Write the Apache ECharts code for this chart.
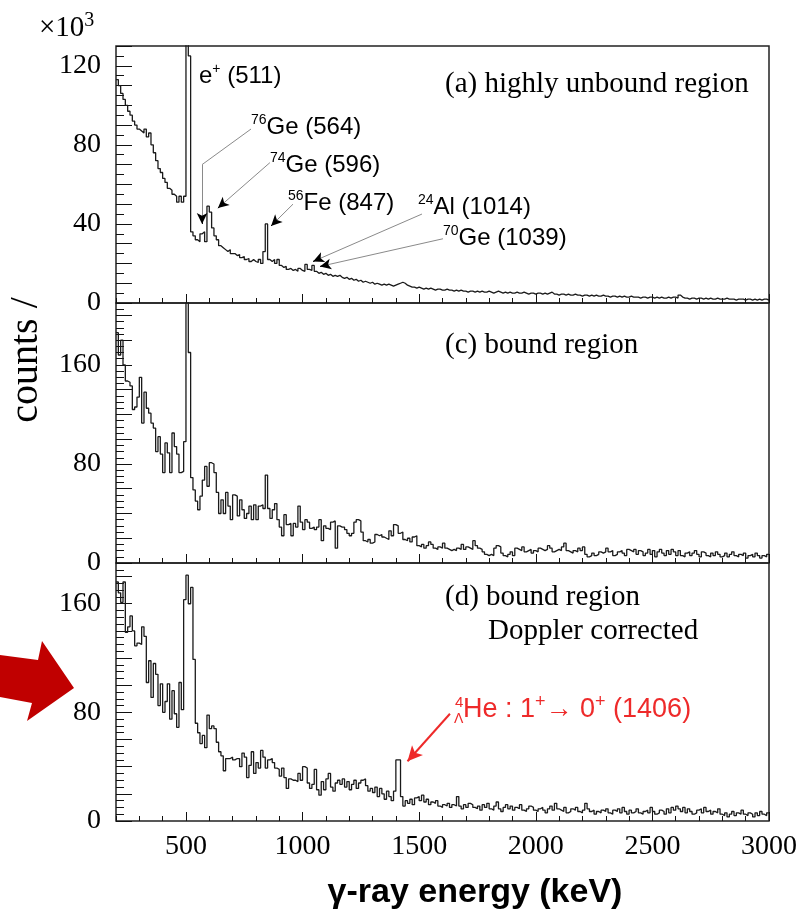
<!DOCTYPE html>
<html>
<head>
<meta charset="utf-8">
<script src="https://cdn.jsdelivr.net/npm/echarts@6/dist/echarts.min.js"></script>
<style>
  html, body { margin: 0; padding: 0; background: #fff; }
  #chart { width: 801px; height: 914px; }
</style>
</head>
<body>
<div id="chart"></div>
<script>
// histogram binning (keV)
const BIN_LO = 200;
const BIN_W = 10;
const X_MAX = 3000;
const xLabelValues = [500, 1000, 1500, 2000, 2500, 3000];

// (a) highly unbound region, counts x10^3 per 10 keV bin, one row = 100 keV
const unboundA = [
  113, 110, 106, 103, 100, 97, 95, 92, 90, 88,
  87, 86, 88, 84, 86, 80, 76, 72, 68, 66,
  63, 61, 58, 57, 55, 54, 51, 54, 51, 54,
  160, 125, 36, 34, 32, 31, 35, 36, 31, 49,
  46, 38, 34, 32, 29, 28, 27, 26, 27, 25,
  25, 24, 24.5, 23, 23.5, 22, 22.5, 21, 22, 21,
  20.5, 22, 20, 26, 40, 22, 21, 22, 20, 22,
  19, 18, 18.5, 17, 17.5, 16.5, 17, 16, 17.5, 16.5,
  16, 19.5, 17, 16.5, 19, 16, 15, 15.5, 14.5, 15,
  14, 14.5, 13.5, 14, 13.5, 14, 13, 12.5, 13, 12,
  12.5, 11.5, 12, 11, 11.5, 10.5, 11, 10.5, 10, 10.5,
  9.5, 10, 9.5, 9, 9.5, 9, 9.5, 9, 8.5, 9,
  9.5, 10, 10.5, 10, 9, 8.5, 8, 8, 7.5, 8,
  7.5, 7, 7.5, 7, 7.5, 7, 6.5, 7, 7, 6.5,
  6.5, 7, 6.5, 6.5, 6, 6.5, 6, 6.5, 6, 6,
  5.5, 6, 6, 5.5, 6, 5.5, 6, 5.5, 5.5, 6,
  5.5, 5, 5.5, 6, 5.5, 5, 5.5, 5, 5.5, 5,
  5, 5.5, 5, 5, 5.5, 5, 4.5, 5, 5, 4.5,
  5, 5, 4.5, 5, 4.5, 5, 5.5, 4.5, 4.5, 4,
  4.5, 4.5, 4, 4.5, 4, 4, 4.5, 4, 4, 3.5,
  4, 4, 3.5, 4, 3.5, 4, 3.5, 3.5, 4, 3.5,
  3.5, 3, 3.5, 3.5, 3, 3.5, 3, 3.5, 3, 3,
  3.5, 3, 3, 3, 2.5, 3, 3, 2.5, 3, 3,
  2.5, 3, 2.5, 3, 2.5, 2.5, 3, 2.5, 3, 3,
  2.5, 4, 3, 2.5, 2.5, 2, 2.5, 2.5, 2, 2.5,
  2.5, 2, 2.5, 2, 2.5, 2, 2, 2.5, 2, 2,
  2, 2.5, 2, 2, 2, 1.5, 2, 2, 2, 1.5,
  2, 2, 1.5, 2, 1.5, 2, 1.5, 2, 2, 1.5
];

// (c) bound region, counts per 10 keV bin
const boundC = [
  186, 168, 180, 160, 147, 146, 143, 124, 126, 134,
  150, 113, 138, 125, 121, 113, 109, 90, 102, 88,
  73, 97, 89, 73, 105, 94, 88, 73, 74, 98,
  230, 170, 69, 59, 50, 43, 54, 67, 78, 62,
  81, 80, 73, 57, 40, 51, 40, 57, 46, 35,
  55, 54, 38, 51, 43, 36, 40, 46, 35, 47,
  35, 46, 47, 44, 71, 44, 36, 43, 48, 35,
  29, 22, 39, 31, 32, 22, 32, 29, 46, 33,
  27, 35, 33, 28, 29, 27, 29, 35, 18, 30,
  28, 27, 33, 34, 12, 30, 29, 29, 27, 24,
  22, 24, 33, 35, 34, 25, 18, 17, 19, 16,
  17, 23, 22, 23, 21, 20, 19, 26, 22, 31,
  30, 24, 25, 19, 18, 20, 17, 21, 22, 14,
  13, 15, 12, 14, 17, 15, 12, 11, 13, 12,
  16, 12, 11, 10, 11, 10, 12, 11, 15, 11,
  13, 12, 11, 18, 14, 12, 11, 9, 7, 6,
  7, 6, 12, 14, 13, 8, 6, 5, 7, 9,
  6, 12, 11, 10, 13, 9, 10, 11, 8, 10,
  9, 12, 11, 10, 11, 14, 12, 9, 10, 11,
  10, 13, 16, 10, 9, 8, 10, 9, 12, 10,
  13, 7, 5, 6, 8, 6, 7, 9, 8, 9,
  12, 9, 10, 6, 7, 9, 10, 8, 6, 11,
  10, 9, 11, 7, 10, 9, 6, 8, 11, 7,
  10, 5, 9, 11, 8, 6, 10, 7, 11, 9,
  6, 10, 6, 5, 8, 9, 6, 8, 10, 7,
  5, 9, 8, 6, 5, 8, 6, 9, 7, 5,
  6, 8, 5, 7, 9, 6, 5, 7, 6, 8,
  4, 6, 7, 5, 8, 6, 4, 6, 5, 7
];

// (d) bound region, Doppler corrected, counts per 10 keV bin
const boundD = [
  176, 168, 161, 176, 139, 143, 151, 140, 129, 131,
  130, 143, 136, 102, 118, 91, 116, 108, 85, 101,
  80, 88, 101, 75, 96, 79, 69, 102, 82, 163,
  181, 160, 172, 119, 72, 65, 57, 63, 54, 78,
  68, 70, 68, 58, 51, 48, 37, 46, 46, 47,
  45, 46, 46, 40, 50, 47, 32, 41, 51, 35,
  43, 39, 52, 47, 39, 45, 46, 43, 39, 38,
  33, 39, 32, 24, 31, 30, 30, 29, 35, 30,
  40, 39, 28, 24, 27, 38, 23, 19, 29, 23,
  31, 35, 25, 22, 28, 30, 27, 31, 25, 29,
  23, 27, 30, 24, 28, 30, 31, 26, 22, 24,
  21, 25, 18, 24, 20, 16, 22, 18, 15, 22,
  45, 45, 18, 11, 15, 13, 16, 12, 17, 18,
  15, 19, 14, 16, 12, 14, 13, 15, 11, 10,
  12, 11, 13, 10, 12, 11, 18, 11, 9, 12,
  10, 13, 12, 10, 9, 11, 8, 12, 10, 13,
  9, 8, 11, 14, 9, 7, 10, 12, 9, 11,
  8, 10, 9, 12, 8, 7, 9, 11, 10, 8,
  7, 9, 10, 8, 6, 9, 11, 8, 13, 9,
  8, 7, 10, 6, 7, 9, 8, 10, 7, 6,
  8, 13, 9, 7, 8, 5, 7, 6, 8, 7,
  9, 6, 5, 8, 7, 9, 6, 10, 7, 5,
  8, 6, 7, 9, 6, 5, 7, 8, 6, 10,
  7, 5, 6, 8, 7, 5, 9, 6, 10, 8,
  11, 9, 7, 10, 6, 9, 7, 5, 6, 8,
  9, 6, 10, 7, 8, 5, 7, 6, 9, 5,
  4, 6, 3, 5, 7, 4, 6, 5, 8, 5,
  4, 6, 5, 3, 6, 4, 7, 5, 4, 6
];

// panel settings: y max, labelled step, long tick step
const panels = [
  {vals: unboundA, max: 130, label: 40, tick: 10},
  {vals: boundC, max: 210, label: 80, tick: 20},
  {vals: boundD, max: 190, label: 80, tick: 20}
];

// pointer lines of panel (a), in data units [keV, counts x10^3]
const gammaPointers = [
  [[779, 88], [569, 70], [569, 40]],   // 76Ge (564)
  [[860, 71], [637, 48]],              // 74Ge (596)
  [[959, 50], [865, 39]],              // 56Fe (847)
  [[1512, 45], [1045, 21]],            // 24Al (1014)
  [[1602, 32.5], [1075, 18.5]]         // 70Ge (1039)
];
// pointer of panel (d)
const hyperPointer = [[1632, 79], [1450, 44]];

const serif = "'Liberation Serif', 'Times New Roman', serif";
const sans = "'Liberation Sans', Arial, Helvetica, sans-serif";
const ink = '#111';
const red = '#ee2a2a';

function histData(vals) {
  const pts = vals.map((v, i) => [BIN_LO + i * BIN_W, v]);
  pts.push([BIN_LO + vals.length * BIN_W, vals[vals.length - 1]]);
  return pts;
}

function pointerLines(paths) {
  const out = [];
  paths.forEach(function (path) {
    for (let i = 1; i < path.length; i++) {
      out.push([{coord: path[i - 1], symbol: 'none'}, {coord: path[i], symbol: 'none'}]);
    }
    // short dark piece carrying the arrow head
    const a = path[path.length - 2], b = path[path.length - 1];
    const s = [b[0] + (a[0] - b[0]) * 0.06, b[1] + (a[1] - b[1]) * 0.06];
    out.push([
      {coord: s, symbol: 'none', lineStyle: {color: '#000', width: 1}},
      {coord: b, symbol: 'arrow', symbolSize: [8, 11]}
    ]);
  });
  return out;
}

const grids = [
  {left: 116, top: 46, width: 653, height: 257},
  {left: 116, top: 303, width: 653, height: 260},
  {left: 116, top: 563, width: 653, height: 258}
].map(g => Object.assign(g, {show: true, borderColor: '#222', borderWidth: 1.5, backgroundColor: 'transparent'}));

const xAxis = [];
const yAxis = [];
const series = [];

panels.forEach(function (p, gi) {
  const last = gi === panels.length - 1;
  xAxis.push({
    type: 'value', gridIndex: gi, min: BIN_LO, max: X_MAX, position: 'bottom',
    axisLine: {show: false},
    splitLine: {show: false},
    axisTick: {show: true, inside: true, length: 9, customValues: xLabelValues, lineStyle: {color: ink, width: 1}},
    axisLabel: {
      show: last, customValues: xLabelValues, margin: 12,
      fontFamily: serif, fontSize: 28, color: '#000',
      formatter: v => String(v)
    }
  });
  xAxis.push({
    type: 'value', gridIndex: gi, min: BIN_LO, max: X_MAX, interval: 100, position: 'bottom',
    axisLine: {show: false},
    splitLine: {show: false},
    axisTick: {show: true, inside: true, length: 5, lineStyle: {color: ink, width: 1}},
    axisLabel: {show: false}
  });
  yAxis.push({
    type: 'value', gridIndex: gi, min: 0, max: p.max, interval: p.tick, position: 'left',
    axisLine: {show: false},
    splitLine: {show: false},
    axisTick: {show: true, inside: true, length: 16, lineStyle: {color: ink, width: 1}},
    axisLabel: {
      margin: 15, fontFamily: serif, fontSize: 28, color: '#000',
      formatter: v => (v % p.label === 0 ? String(v) : '')
    }
  });
  yAxis.push({
    type: 'value', gridIndex: gi, min: 0, max: p.max, interval: 5, position: 'left',
    axisLine: {show: false},
    splitLine: {show: false},
    axisTick: {show: true, inside: true, length: 8, lineStyle: {color: ink, width: 1}},
    axisLabel: {show: false}
  });
  const s = {
    type: 'line', xAxisIndex: gi * 2, yAxisIndex: gi * 2,
    data: histData(p.vals), step: 'end', symbol: 'none', clip: true,
    lineStyle: {color: '#1a1a1a', width: 1.3}
  };
  if (gi === 0) {
    s.markLine = {
      silent: true, animation: false, label: {show: false},
      lineStyle: {color: '#8a8a8a', width: 1, type: 'solid'},
      emphasis: {disabled: true},
      data: pointerLines(gammaPointers)
    };
  }
  if (gi === 2) {
    s.markLine = {
      silent: true, animation: false, label: {show: false},
      lineStyle: {color: red, width: 2, type: 'solid'},
      emphasis: {disabled: true},
      data: [[{coord: hyperPointer[0], symbol: 'none'}, {coord: hyperPointer[1], symbol: 'arrow', symbolSize: [11, 15]}]]
    };
  }
  series.push(s);
});

function label(x, y, text, rich) {
  return {
    type: 'text', x: x, y: y, silent: true,
    style: {text: text, rich: rich, verticalAlign: 'middle', align: 'left'}
  };
}

const annRich = {
  t: {fontFamily: sans, fontSize: 24, fill: '#000', lineHeight: 26, verticalAlign: 'bottom'},
  s: {fontFamily: sans, fontSize: 14, fill: '#000', lineHeight: 26, verticalAlign: 'top'}
};
const redRich = {
  t: {fontFamily: sans, fontSize: 27, fill: red, lineHeight: 30, verticalAlign: 'bottom'},
  s: {fontFamily: sans, fontSize: 18, fill: red, lineHeight: 30, verticalAlign: 'top'}
};
const titleStyle = {fontFamily: serif, fontSize: 29, fill: '#000'};

const graphic = [
  // exponent of panel (a)
  label(39, 27, '{b|×10}{e|3}', {
    b: {fontFamily: serif, fontSize: 29, fill: '#000', lineHeight: 32, verticalAlign: 'bottom'},
    e: {fontFamily: serif, fontSize: 20, fill: '#000', lineHeight: 32, verticalAlign: 'top'}
  }),
  // y title
  {
    type: 'text', x: 26, y: 360, rotation: Math.PI / 2, silent: true,
    style: {text: 'counts /', fontFamily: serif, fontSize: 40, fill: '#000', align: 'center', verticalAlign: 'middle'}
  },
  // x title
  {
    type: 'text', x: 475, y: 893, silent: true,
    style: {text: 'γ-ray energy (keV)', fontFamily: sans, fontWeight: 'bold', fontSize: 34, fill: '#000', align: 'center', verticalAlign: 'middle'}
  },
  // panel titles
  {type: 'text', x: 445, y: 84, silent: true, style: Object.assign({text: '(a) highly unbound region', verticalAlign: 'middle'}, titleStyle)},
  {type: 'text', x: 445, y: 345, silent: true, style: Object.assign({text: '(c) bound region', verticalAlign: 'middle'}, titleStyle)},
  {type: 'text', x: 445, y: 597, silent: true, style: Object.assign({text: '(d) bound region', verticalAlign: 'middle'}, titleStyle)},
  {type: 'text', x: 488, y: 631, silent: true, style: Object.assign({text: 'Doppler corrected', verticalAlign: 'middle'}, titleStyle)},
  // gamma line labels
  label(199, 75, '{t|e}{s|+}{t| (511)}', annRich),
  label(251, 126, '{s|76}{t|Ge (564)}', annRich),
  label(270, 164, '{s|74}{t|Ge (596)}', annRich),
  label(288, 202, '{s|56}{t|Fe (847)}', annRich),
  label(418, 206, '{s|24}{t|Al (1014)}', annRich),
  label(443, 237, '{s|70}{t|Ge (1039)}', annRich),
  // hypernuclear transition
  {type: 'text', x: 455, y: 703, silent: true, style: {text: '4', fontFamily: sans, fontSize: 15, fill: red, verticalAlign: 'middle'}},
  {type: 'text', x: 454, y: 719, silent: true, style: {text: 'Λ', fontFamily: sans, fontSize: 14, fill: red, verticalAlign: 'middle'}},
  label(463, 708, '{t|He : 1}{s|+}{t|→ 0}{s|+}{t| (1406)}', redRich),
  // red block arrow on the left margin
  {
    type: 'polygon', silent: true,
    shape: {points: [[0, 655], [38, 660], [42, 641], [74, 688], [27, 721], [32, 703], [0, 697]]},
    style: {fill: '#c00000'}
  }
];

const chart = echarts.init(document.getElementById('chart'));
chart.setOption({
  backgroundColor: '#fff',
  animation: false,
  grid: grids,
  xAxis: xAxis,
  yAxis: yAxis,
  series: series,
  graphic: graphic
});
</script>
</body>
</html>
